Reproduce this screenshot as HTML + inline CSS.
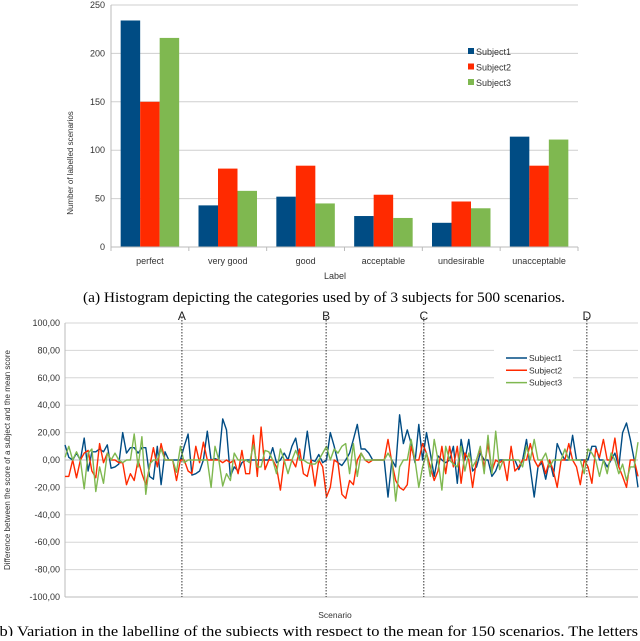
<!DOCTYPE html>
<html><head><meta charset="utf-8"><style>
body{margin:0;background:#fff;width:640px;height:636px;overflow:hidden}
svg text{font-family:"Liberation Sans",sans-serif}
</style></head><body>
<svg width="640" height="636" xmlns="http://www.w3.org/2000/svg" id="root">
<g id="topChart"></g>
<text x="83" y="302" textLength="482" lengthAdjust="spacingAndGlyphs" font-size="15" style="font-family:'Liberation Serif',serif">(a) Histogram depicting the categories used by of 3 subjects for 500 scenarios.</text>
<g id="botChart"></g>
<text x="-6" y="636" textLength="660" lengthAdjust="spacingAndGlyphs" font-size="15" style="font-family:'Liberation Serif',serif">(b) Variation in the labelling of the subjects with respect to the mean for 150 scenarios. The letters at</text>
</svg>
<script>
const categories=["perfect","very good","good","acceptable","undesirable","unacceptable"];
const subject1Counts=[234,43,52,32,25,114];
const subject2Counts=[150,81,84,54,47,84];
const subject3Counts=[216,58,45,30,40,111];
const countTicks=[0,50,100,150,200,250];
const seriesNames=["Subject1","Subject2","Subject3"];
const colors=["#004c84","#ff2a00","#7fb850"];

const s1=[11,2,0,5,0,16,-8,6,6,8,6,11,-6,-5,-3,20,5,9,9,5,9,9,-12,-14,10,-18,6,0,0,0,0,10,19,-11,-10,-8,0,21,0,1,0,30,22,-12,-5,-8,-2,0,0,0,0,0,0,0,9,-2,0,5,0,10,16,0,0,21,0,-1,4,-2,0,20,10,-2,-4,0,5,15,26,8,8,5,0,0,0,0,-27,0,-5,33,12,22,12,-2,26,0,20,5,-12,3,0,-2,0,10,-17,15,0,15,-8,-5,5,0,0,-12,-8,0,0,0,0,0,-7,0,15,-6,-27,-5,-2,-14,0,-12,12,5,0,0,18,0,0,0,0,10,10,0,0,-5,0,5,-5,20,27,15,0,-20];
const s2=[-12,-12,0,-13,0,5,7,-8,-13,12,-2,5,0,0,-2,-2,-18,-10,-15,0,-10,-18,-5,9,-5,12,0,0,0,-15,0,0,-8,-10,10,-2,13,0,0,0,0,-2,0,-2,0,-10,7,-10,-10,18,-12,24,-7,0,0,-5,-22,0,0,0,-5,8,-10,-12,0,-19,0,-5,-27,-20,0,-2,-25,-28,-15,-18,0,5,0,-2,0,0,0,0,15,-2,-15,-20,-22,-18,10,0,0,12,5,-5,-15,-8,10,-10,10,-5,10,-17,5,0,-20,0,8,-5,12,-8,0,-2,0,-15,10,-8,-5,0,0,12,0,-5,0,-10,0,-8,-20,0,0,12,0,-5,-18,0,-5,-17,8,2,15,0,0,16,-5,-12,-20,0,0,-12];
const s3=[2,10,0,6,0,-21,5,8,-23,-5,-17,5,0,5,0,-2,0,0,19,-5,17,-25,-3,0,0,8,0,0,0,-9,10,-2,0,0,0,0,0,0,-20,10,0,-19,-10,-15,5,0,0,0,-2,11,-5,-5,7,6,0,-10,8,0,-10,0,7,0,0,-2,-3,-3,0,5,10,0,8,5,10,12,-10,12,-12,5,0,0,0,0,0,0,5,0,-30,-5,0,0,15,0,-20,-5,5,-12,15,0,-22,10,0,-3,-5,10,-8,5,-5,0,10,-10,18,-10,21,-7,0,0,0,0,0,-5,10,0,15,0,0,5,-5,0,0,0,8,0,0,0,0,-10,8,5,0,-12,0,-10,5,0,-10,-3,-15,-5,-5,13];
const markerLabels=["A","B","C","D"];
const markerIdx=[30.4,67.9,93.3,135.7];
const diffTicks=[-100,-80,-60,-40,-20,0,20,40,60,80,100];

const NS="http://www.w3.org/2000/svg";
function mk(p,t,a,txt){const e=document.createElementNS(NS,t);for(const k in a)e.setAttribute(k,a[k]);if(txt!=null)e.textContent=txt;p.appendChild(e);return e;}

// ---- top chart
const topG=document.getElementById('topChart');
const L=111,R=578,Y0=247,Y1=5;
const yS=v=>Y0-(v/250)*(Y0-Y1);
const gw=(R-L)/categories.length;
countTicks.forEach(t=>{
  if(t>0){const g=mk(topG,'line',{x1:L,x2:R,y1:yS(t),y2:yS(t),stroke:'#cfcfcf','stroke-width':1});
  }
  const tx=mk(topG,'text',{x:105,y:yS(t)+3,'text-anchor':'end','font-size':9,fill:'#333'},t);
  
});
const lb=mk(topG,'rect',{x:437,y:55,width:108,height:40,fill:'#fff'});

[subject1Counts,subject2Counts,subject3Counts].forEach((arr,s)=>{
  arr.forEach((v,i)=>{
    const bw=19.5;const x=L+i*gw+(gw-3*bw)/2+s*bw;
    const r=mk(topG,'rect',{x:x,y:yS(v),width:bw,height:Y0-yS(v),fill:colors[s]});
    
    
  });
});
mk(topG,'line',{x1:L,x2:L,y1:Y1,y2:Y0+4,stroke:'#bbb'});
mk(topG,'line',{x1:L,x2:R,y1:Y0,y2:Y0,stroke:'#bbb'});
categories.forEach((c,i)=>{
  mk(topG,'line',{x1:L+(i+1)*gw,x2:L+(i+1)*gw,y1:Y0,y2:Y0+4,stroke:'#bbb'});
  const t=mk(topG,'text',{x:L+(i+.5)*gw,y:264,'text-anchor':'middle','font-size':9,fill:'#333'},c);
  
});
const xl=mk(topG,'text',{x:335,y:279,'text-anchor':'middle','font-size':9,fill:'#333'},'Label');

const yl=mk(topG,'text',{x:0,y:0,transform:'translate(73,163) rotate(-90)','text-anchor':'middle','font-size':8,fill:'#333'},'Number of labelled scenarios');

seriesNames.forEach((n,s)=>{
  const sq=mk(topG,'rect',{x:468,y:48+s*15.5,width:6,height:6,fill:colors[s]});
  
  const t=mk(topG,'text',{x:476,y:55+s*15.5,'font-size':9,fill:'#333'},n);
  
});

// ---- bottom chart
const botG=document.getElementById('botChart');
const BL=65,BR=638,BT=323,BB=597;
const by=v=>BT+(100-v)/200*(BB-BT);
const bx=i=>BL+i*(BR-BL)/(s1.length-1);
diffTicks.forEach(t=>{
  if(t!==-100){const g=mk(botG,'line',{x1:BL,x2:BR,y1:by(t),y2:by(t),stroke:t===0?'#bbb':'#d6d6d6','stroke-width':1});
  }
  const tx=mk(botG,'text',{x:60,y:by(t)+3,'text-anchor':'end','font-size':9,fill:'#333'},t.toFixed(2).replace('.',','));
  
});
mk(botG,'line',{x1:BL,x2:BL,y1:BT,y2:BB,stroke:'#bbb'});
mk(botG,'line',{x1:BL,x2:BR,y1:BB,y2:BB,stroke:'#bbb'});
const lb2=mk(botG,'rect',{x:494,y:345,width:79,height:40,fill:'#fff'});

[s1,s2,s3].forEach((arr,s)=>{
  const d=arr.map((v,i)=>(i?'L':'M')+bx(i).toFixed(1)+','+by(v).toFixed(1)).join('');
  const p=mk(botG,'path',{d:d,fill:'none',stroke:colors[s],'stroke-width':1.4,'stroke-linejoin':'round'});
  
  
});
markerIdx.forEach((m,k)=>{
  const l=mk(botG,'line',{x1:bx(m),x2:bx(m),y1:BT-6,y2:BB,stroke:'#333','stroke-dasharray':'1.5,1.5','stroke-width':1});
  
  const t=mk(botG,'text',{x:bx(m),y:320,'text-anchor':'middle','font-size':12,fill:'#222'},markerLabels[k]);
  
});
seriesNames.forEach((n,s)=>{
  const l=mk(botG,'line',{x1:506,x2:527,y1:358+s*12.3,y2:358+s*12.3,stroke:colors[s],'stroke-width':1.5});
  
  const t=mk(botG,'text',{x:529,y:361+s*12.3,'font-size':8.5,fill:'#333'},n);
  
});
const bxl=mk(botG,'text',{x:335,y:618,'text-anchor':'middle','font-size':8.5,fill:'#333'},'Scenario');

const byl=mk(botG,'text',{x:0,y:0,transform:'translate(10,460) rotate(-90)','text-anchor':'middle','font-size':8,fill:'#333'},'Difference between the score of a subject and the mean score');

</script>
</body></html>
